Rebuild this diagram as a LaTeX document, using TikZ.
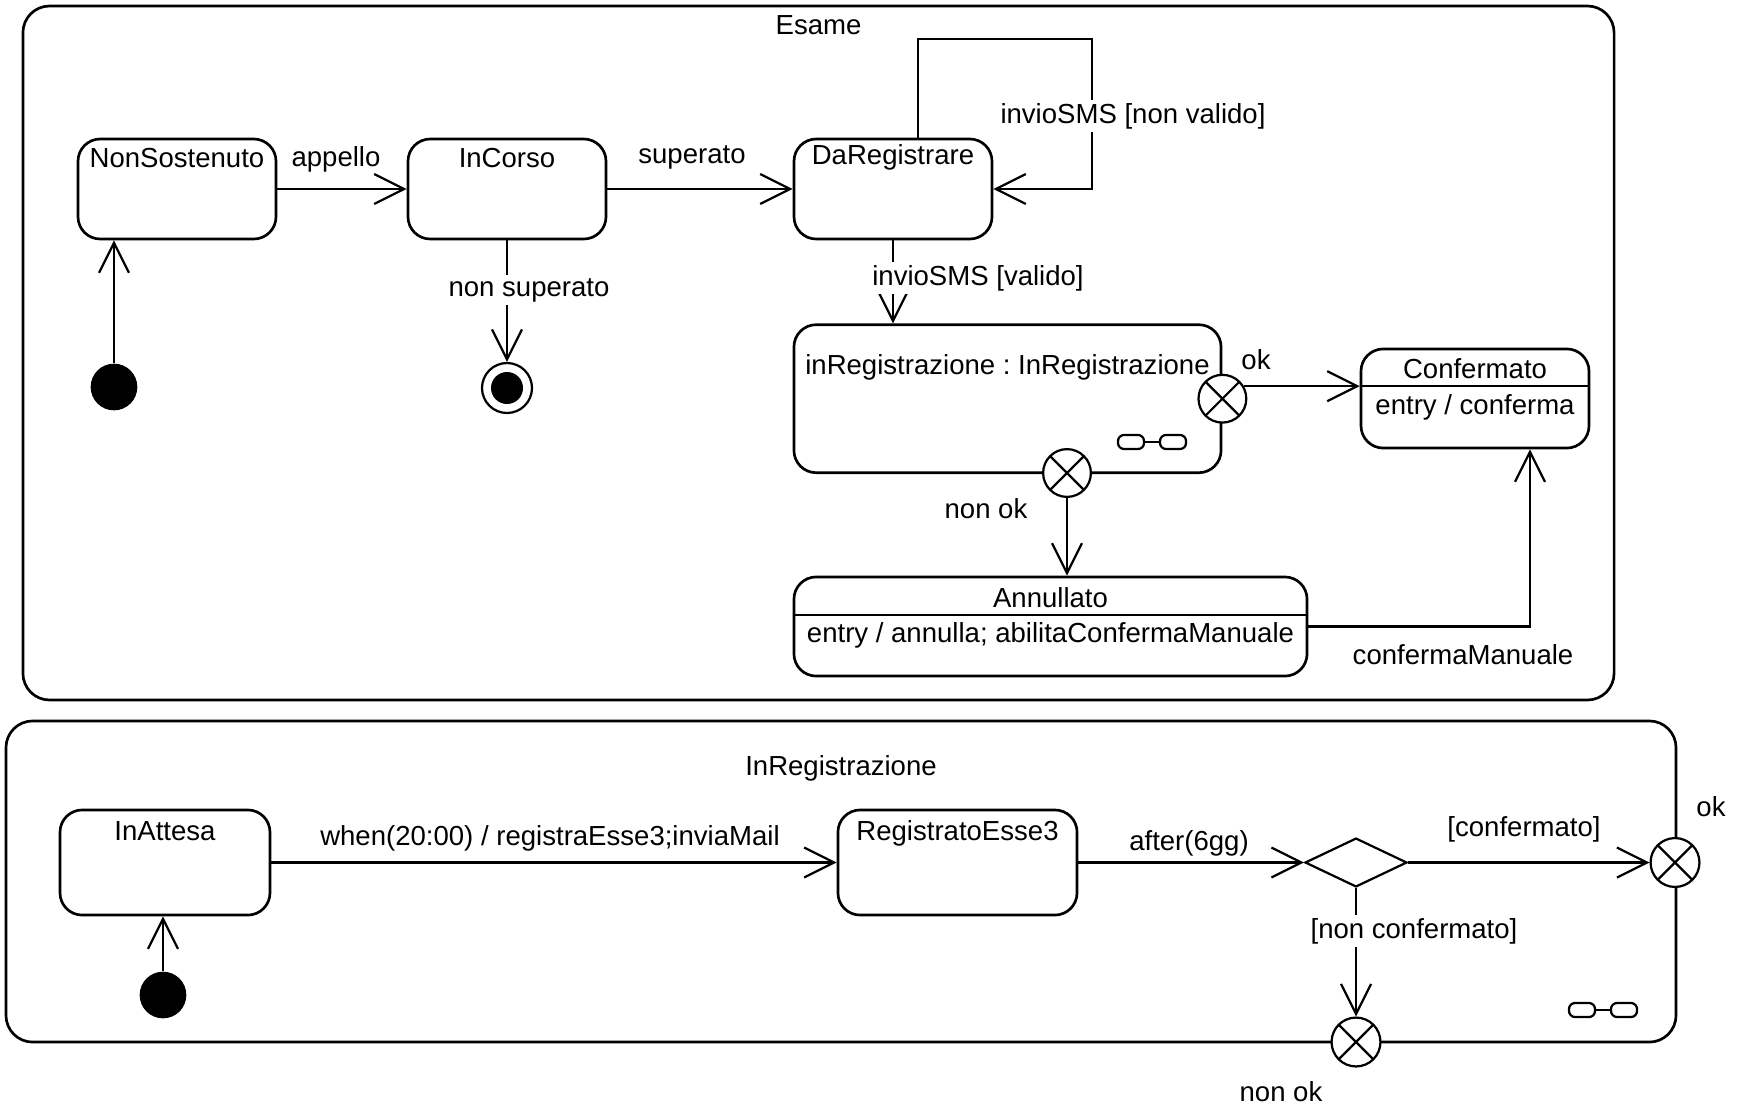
\documentclass[tikz,border=0pt]{standalone}
\usepackage{fontspec}
\setmainfont{Liberation Sans}
\usetikzlibrary{arrows.meta,shapes.geometric}
\frenchspacing

\begin{document}
\begin{tikzpicture}[x=0.45pt, y=-0.45pt,
    font=\fontsize{12.4}{14}\selectfont,
    frame/.style={draw, line width=1.2pt, rounded corners=12pt, inner sep=0pt},
    state/.style={draw, line width=1.2pt, rounded corners=10pt, inner sep=0pt},
    trans/.style={line width=1pt, -{Straight Barb[length=13.5pt, width=13.5pt]}},
    guard/.style={fill=white, inner sep=1.5pt},
    initial/.style={circle, fill, inner sep=0pt, minimum size=21pt},
    final/.style={circle, draw, line width=1pt, inner sep=0pt, minimum size=22.5pt,
        path picture={\fill (path picture bounding box.center) circle (7.2pt);}},
    exitpt/.style={circle, draw, fill=white, line width=1pt, inner sep=0pt, minimum size=21.5pt,
        path picture={\draw[line width=1pt] (path picture bounding box.south west) -- (path picture bounding box.north east)
            (path picture bounding box.north west) -- (path picture bounding box.south east);}},
]
    \useasboundingbox (0,0) rectangle (1744,1105);

    % Draw the composite state Esame
    \node[frame, minimum width=716pt, minimum height=312.3pt,
        label={[anchor=center, yshift=-9pt]north:Esame}] (esame) at (818.5,353) {};

    % Draw the states
    \node[state, minimum width=89.1pt, minimum height=45pt,
        label={[anchor=center, yshift=-9pt]north:NonSostenuto}] (ns) at (177,189) {};
    \node[state, minimum width=89.1pt, minimum height=45pt,
        label={[anchor=center, yshift=-9pt]north:InCorso}] (ic) at (507,189) {};
    \node[state, minimum width=89.1pt, minimum height=45pt,
        label={[anchor=center, yshift=-9pt]north:DaRegistrare}] (dr) at (893,189) {};
    \node[state, minimum width=192.2pt, minimum height=66.6pt,
        label={[anchor=center, yshift=-20pt]north:inRegistrazione : InRegistrazione}] (ir) at (1007.5,398.7) {};
    \node[state, minimum width=102.6pt, minimum height=44.6pt] (conf) at (1475,398.5) {};
    \node[state, minimum width=230.9pt, minimum height=44.6pt] (ann) at (1050.5,626.5) {};

    % Draw the compartments
    \draw[line width=1pt] (conf.west |- 0,386) -- (conf.east |- 0,386);
    \draw[line width=1pt] (ann.west |- 0,615) -- (ann.east |- 0,615);
    \node (confname) at (1475,369) {Confermato};
    \node (confentry) at (1475,407) {entry / conferma};
    \node (annname) at (1050.5,598) {Annullato};
    \node (annentry) at (1050.5,635) {entry / annulla; abilitaConfermaManuale};

    % Draw the pseudostates
    \node[initial] (i1) at (114,387) {};
    \node[final] (fin) at (507,388) {};
    \node[exitpt] (xok) at (ir.east) {};
    \node[exitpt] (xnok) at (1067,473) {};

    % Draw the transitions
    \draw[trans] (i1) -- (i1 |- ns.south);
    \draw[trans] (ns) -- (ic) node[midway, xshift=-2.7pt, yshift=13.5pt] (lapp) {appello};
    \draw[trans] (ic) -- (dr) node[midway, xshift=-3.6pt, yshift=14pt] (lsup) {superato};
    \draw[trans] (ic) -- (fin) node[guard] (lnsup) at (529,290) {non superato};
    \draw[trans] (dr.north -| 918,0) |- (1092,39) |- (dr.east)
        node[guard] (lnval) at (1133,116) {invioSMS [non valido]};
    \draw[trans] (dr.south) -- (dr.south |- ir.north)
        node[guard] (lval) at (978,278) {invioSMS [valido]};
    \draw[trans] (xok.30) -- (xok.30 -| conf.west) node (lok) at (1256,360) {ok};
    \draw[trans] (xnok) -- (xnok |- ann.north) node (lnok) at (986,509) {non ok};
    \draw[trans] (ann.east) -| (conf.south -| 1530,0)
        node (lman) at (1463,655) {confermaManuale};

    % Draw the submachine InRegistrazione
    \node[frame, minimum width=751.5pt, minimum height=144.5pt,
        label={[anchor=center, yshift=-22pt]north:InRegistrazione}] (inreg) at (841,881.5) {};
    \node[state, minimum width=94.5pt, minimum height=47.3pt,
        label={[anchor=center, yshift=-10pt]north:InAttesa}] (ia) at (165,862.5) {};
    \node[state, minimum width=107.6pt, minimum height=47.3pt,
        label={[anchor=center, yshift=-11pt]north:RegistratoEsse3}] (re3) at (957.5,862.5) {};
    \node[initial] (i2) at (163,995) {};
    \node[diamond, draw, line width=1pt, inner sep=0pt, minimum width=45.9pt, minimum height=22pt] (dec) at (1356,862.5) {};
    \node[exitpt, minimum size=22pt] (xok2) at (1675,862.5) {};
    \node[exitpt, minimum size=22pt] (xnok2) at (1356,1042) {};

    \draw[trans] (i2) -- (i2 |- ia.south);
    \draw[trans] (ia) -- (re3) node (lwhen) at (550,838) {when(20:00) / registraEsse3;inviaMail};
    \draw[trans] (re3) -- (dec) node (lafter) at (1189,843) {after(6gg)};
    \draw[trans] (dec) -- (xok2) node (lconf) at (1524,829) {[confermato]};
    \draw[trans] (dec) -- (xnok2) node[guard] (lnconf) at (1414,931) {[non confermato]};
    \node (lok2) at (1711,807) {ok};
    \node (lnok2) at (1281,1092) {non ok};

    % Draw the composite icons
    \foreach \cx/\cy in {1152/442, 1603/1010} {
        \draw[line width=1pt, rounded corners=2.7pt] (\cx-34,\cy-7) rectangle (\cx-8,\cy+7)
            (\cx+8,\cy-7) rectangle (\cx+34,\cy+7);
        \draw[line width=1pt] (\cx-8,\cy) -- (\cx+8,\cy);
    }
\end{tikzpicture}
\end{document}
